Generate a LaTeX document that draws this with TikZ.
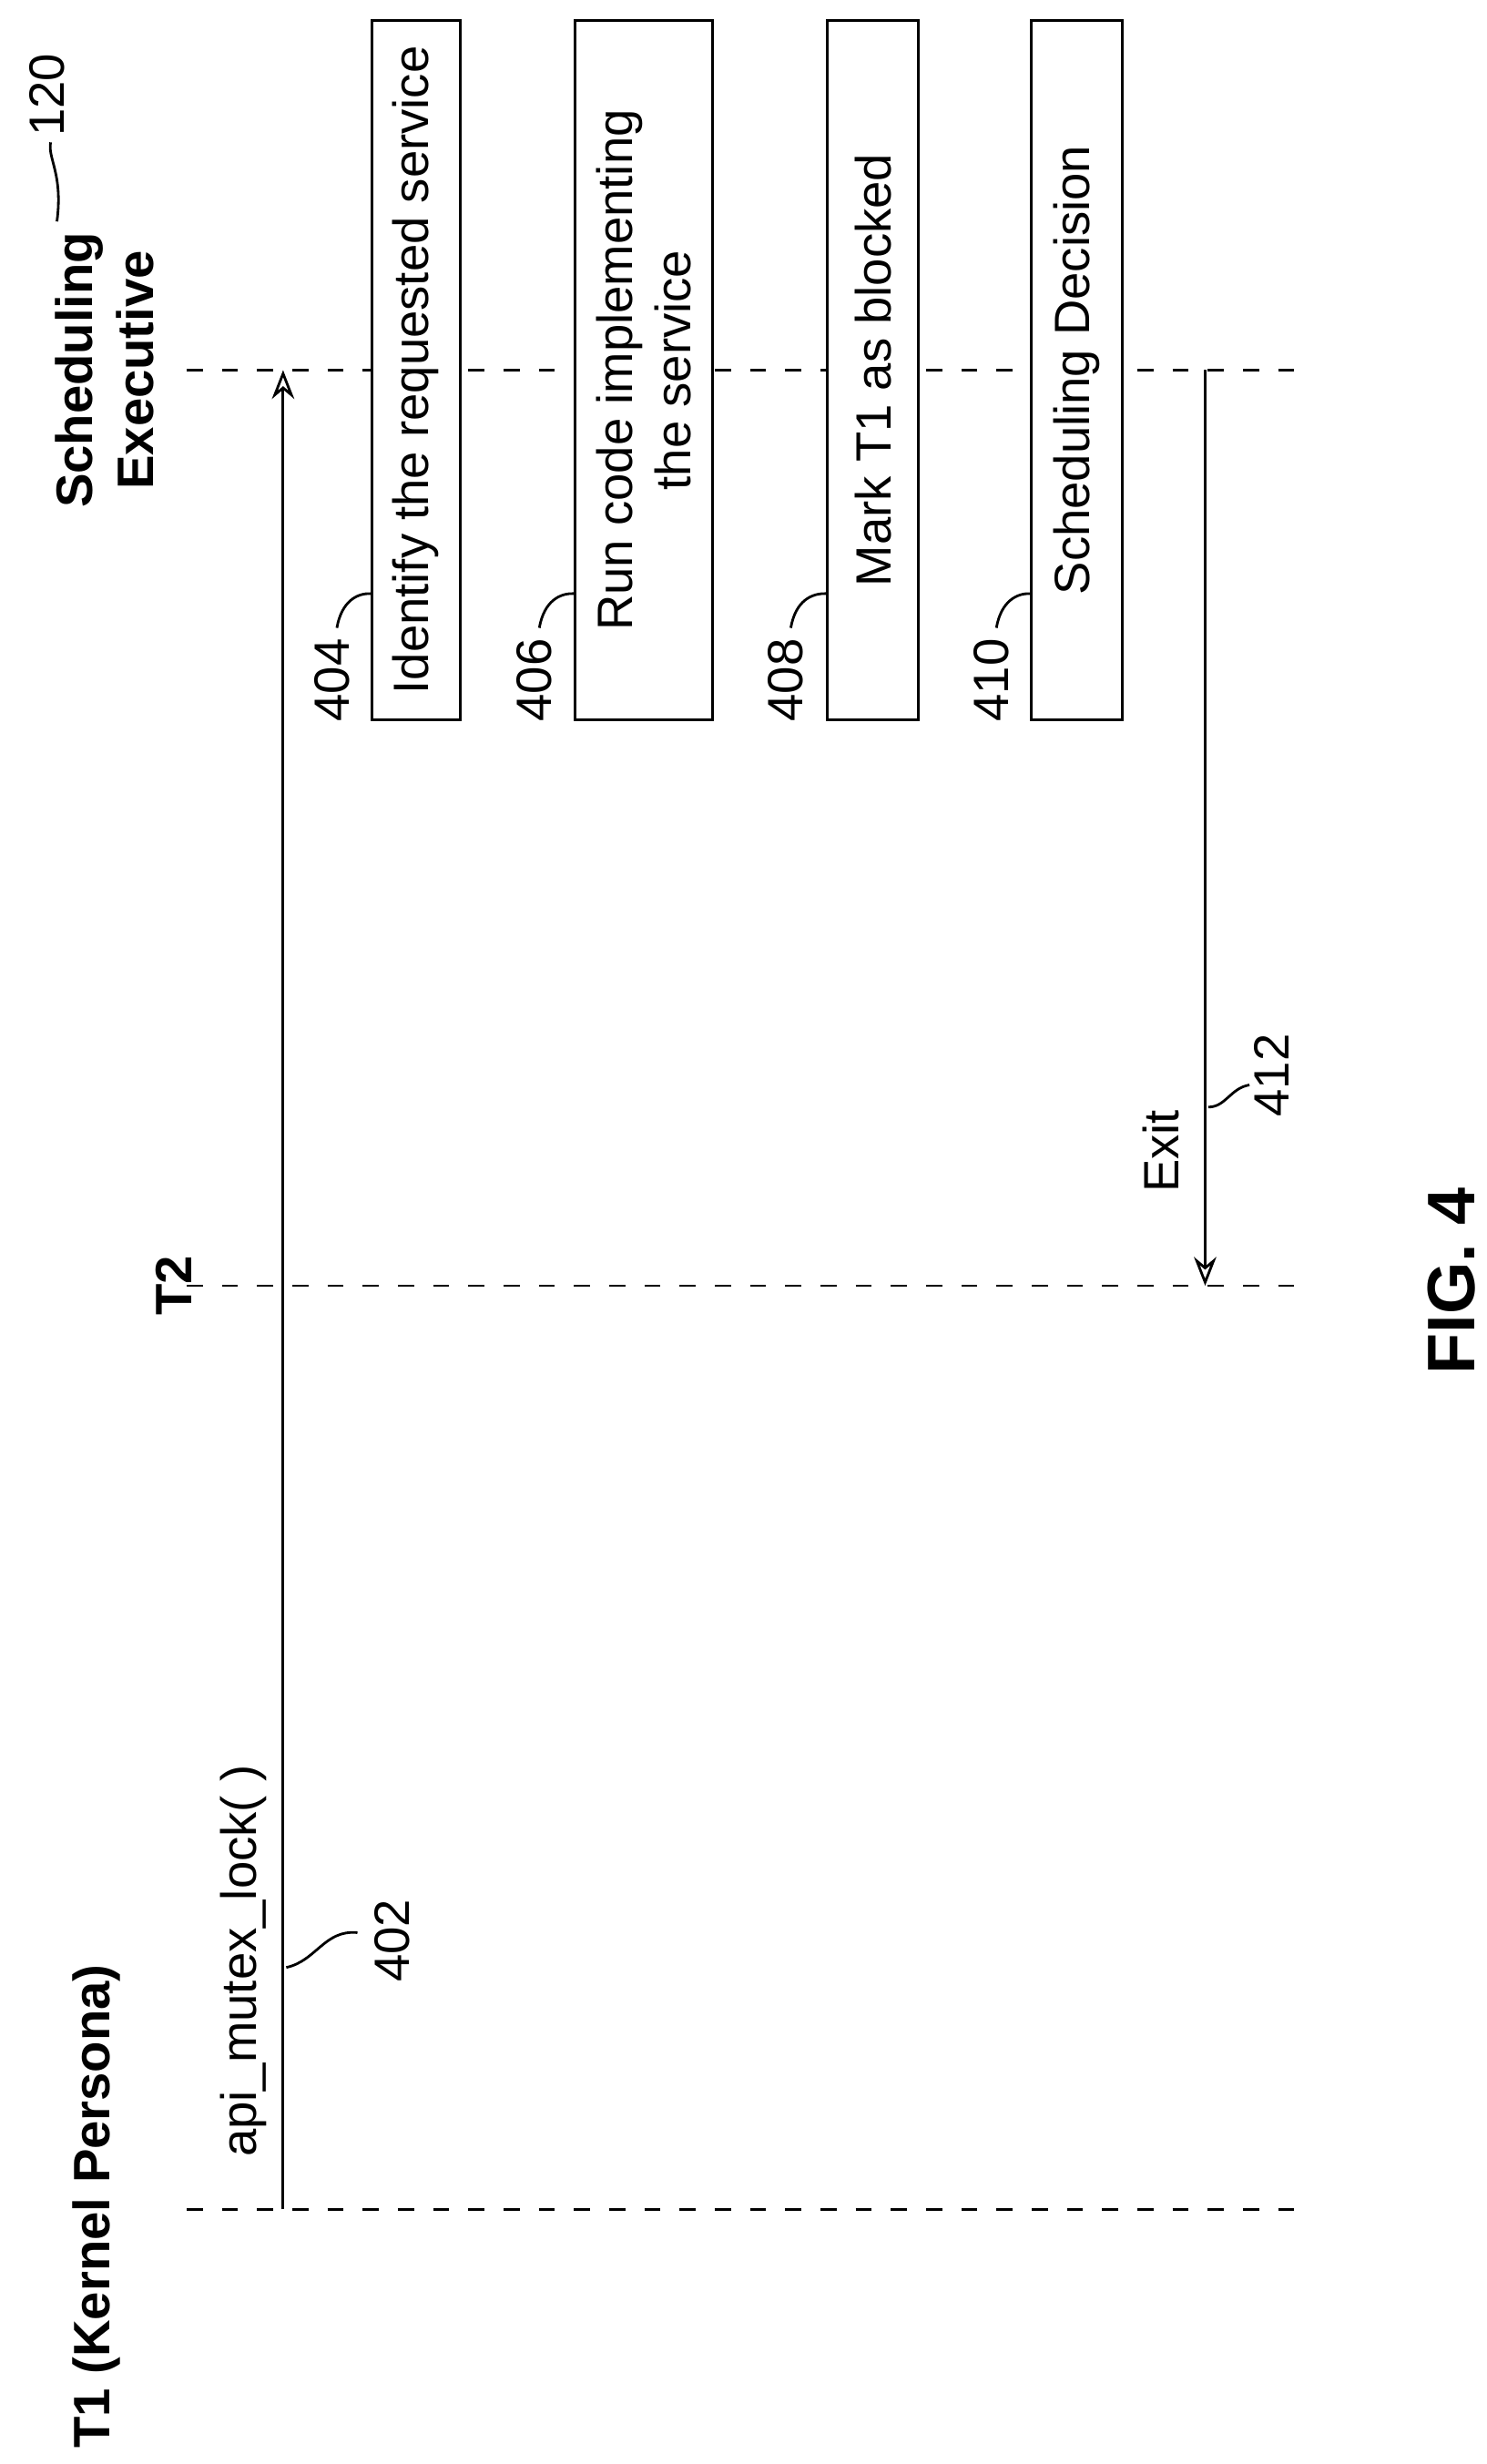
\documentclass[tikz,border=0pt]{standalone}
\usepackage{fontspec}
\setmainfont{Liberation Sans}
\usetikzlibrary{arrows.meta}

\tikzset{
    lifeline/.style={dash pattern=on 5pt off 6pt, line width=0.8pt},
    msg/.style={line width=0.8pt, -{Stealth[open, length=9pt, width=7pt]}},
    stepbox/.style={draw, fill=white, line width=0.8pt, rotate=90, minimum width=7.68cm,
        align=center, font=\fontsize{15.5}{18}\selectfont, inner sep=2pt},
    lbl/.style={rotate=90, font=\fontsize{15.5}{18}\selectfont},
    head/.style={rotate=90, font=\bfseries\fontsize{16}{19}\selectfont, align=center},
    leader/.style={line width=0.8pt}
}

\begin{document}
\begin{tikzpicture}[x=0.01737cm, y=-0.01737cm]
    \useasboundingbox (0,0) rectangle (940,1558);

    % lifelines
    \coordinate (se1) at (118,234);  \coordinate (se2) at (822,234);
    \coordinate (tt1) at (118,813);  \coordinate (tt2) at (822,813);
    \coordinate (ta1) at (118,1397); \coordinate (ta2) at (822,1397);
    \draw[lifeline] (se1) -- (se2);
    \draw[lifeline] (tt1) -- (tt2);
    \draw[lifeline] (ta1) -- (ta2);

    % headers
    \node[head] (hse) at (66,234) {Scheduling\\Executive};
    \node[head] (ht2) at (110,813) {T2};
    \node[head] (ht1) at (61,1395) {T1 (Kernel Persona)};
    \node[lbl] (n120) at (30,60) {120};
    \draw[leader] (36,140) .. controls (40,110) and (30,100) .. (32,90);

    % call from T1
    \coordinate (callA) at (179,1397);
    \coordinate (callB) at (179,234);
    \draw[msg] (callA) -- (callB);
    \node[lbl] (api) at (154,1240) {api\_mutex\_lock( )};
    \node[lbl] (n402) at (248,1227) {402};
    \draw[leader] (181,1244) .. controls (200,1240) and (205,1220) .. (226,1222);

    % steps in the executive
    \node[stepbox, minimum height=0.97cm] (s404) at (263,234) {Identify the requested service};
    \node[stepbox, minimum height=1.51cm] (s406) at (407,234) {Run code implementing\\the service};
    \node[stepbox, minimum height=1.0cm] (s408) at (552,234) {Mark T1 as blocked};
    \node[stepbox, minimum height=1.0cm] (s410) at (681,234) {Scheduling Decision};

    \node[lbl] (n404) at (210,430) {404};
    \node[lbl] (n406) at (338,430) {406};
    \node[lbl] (n408) at (497,430) {408};
    \node[lbl] (n410) at (627,430) {410};
    \foreach \b/\x in {404/210, 406/338, 408/497, 410/627} {
        \draw[leader] (\x+3,397) .. controls (\x+6,380) and (\x+16,375) .. ([yshift=1.4cm]s\b.north west);
    }

    % exit back to T2
    \coordinate (exitA) at (762,234);
    \coordinate (exitB) at (762,813);
    \draw[msg] (exitA) -- (exitB);
    \node[lbl] (exit) at (734,728) {Exit};
    \node[lbl] (n412) at (804,680) {412};
    \draw[leader] (764,700) .. controls (775,700) and (778,688) .. (790,686);

    \node[rotate=90, font=\bfseries\fontsize{21}{24}\selectfont] (fig) at (918,810) {FIG. 4};
\end{tikzpicture}
\end{document}
